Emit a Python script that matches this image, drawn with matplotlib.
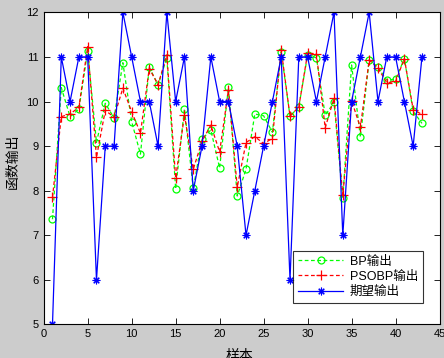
import numpy as np
import matplotlib
matplotlib.use('Agg')
import matplotlib.pyplot as plt

plt.rcParams['font.family'] = ['Liberation Sans', 'Noto Sans CJK SC']

# 样本序号
samples = np.arange(1, 44)
# BP输出
bp_out = [7.36, 10.31, 9.66, 9.83, 11.14, 9.08, 9.96, 9.63, 10.87, 9.55,
          8.82, 10.77, 10.37, 10.98, 8.04, 9.84, 8.05, 9.16, 9.36, 8.51,
          10.32, 7.88, 8.48, 9.72, 9.68, 9.31, 11.11, 9.67, 9.88, 11.04,
          10.98, 9.69, 9.98, 7.83, 10.82, 9.20, 10.93, 10.77, 10.48, 10.50,
          10.96, 9.78, 9.51]
# PSOBP输出
psobp_out = [7.85, 9.66, 9.72, 9.87, 11.23, 8.75, 9.80, 9.65, 10.30, 9.77,
             9.29, 10.74, 10.38, 11.04, 8.28, 9.70, 8.48, 9.11, 9.47, 8.87,
             10.26, 8.08, 9.08, 9.21, 9.06, 9.17, 11.16, 9.67, 9.88, 11.08,
             11.07, 9.41, 10.07, 7.90, 10.02, 9.42, 10.93, 10.75, 10.42, 10.45,
             10.96, 9.82, 9.71]
# 期望输出
expected = [5, 11, 10, 11, 11, 6, 9, 9, 12, 11,
            10, 10, 9, 12, 10, 11, 8, 9, 11, 10,
            10, 9, 7, 8, 9, 10, 11, 6, 11, 11,
            10, 11, 12, 7, 10, 11, 12, 10, 11, 11,
            10, 9, 11]

fig = plt.figure(figsize=(4.44, 3.58), dpi=100, facecolor='#cccccc')
ax = fig.add_axes([0.0984, 0.0936, 0.8916, 0.872])
ax.set_facecolor('white')

ax.plot(samples, bp_out, color='#00ff00', linestyle=(0, (3, 2)), linewidth=0.9,
        marker='o', markersize=5, markerfacecolor='none', markeredgewidth=0.9,
        label='BP输出')
ax.plot(samples, psobp_out, color='#ff0000', linestyle=(0, (3, 2)), linewidth=0.9,
        marker='+', markersize=7, markeredgewidth=0.9, label='PSOBP输出')
# MATLAB风格的星号标记
ax.plot(samples, expected, color='#0000ff', linestyle='-', linewidth=0.9,
        marker=(8, 2, 0), markersize=5.5, markeredgewidth=0.8, label='期望输出')

ax.set_xlim(0, 45)
ax.set_ylim(5, 12)
ax.set_xticks(np.arange(0, 46, 5))
ax.set_yticks(np.arange(5, 13, 1))
ax.tick_params(direction='in', top=True, right=True, labelsize=8, length=4, width=0.6)
for s in ax.spines.values():
    s.set_linewidth(0.8)

leg = ax.legend(loc='lower right', bbox_to_anchor=(0.958, 0.069), borderaxespad=0,
                fontsize=9, frameon=True, fancybox=False, handlelength=3.6,
                borderpad=0.4, labelspacing=0.25, handletextpad=0.5)
leg.get_frame().set_edgecolor('black')
leg.get_frame().set_linewidth(0.8)

fig.text(0.028, 0.55, '函数输出', rotation=90, ha='center', va='center', fontsize=10)
fig.text(0.54, 0.005, '样本', ha='center', va='center', fontsize=10)

fig.savefig('out.png', dpi=100, facecolor=fig.get_facecolor())
